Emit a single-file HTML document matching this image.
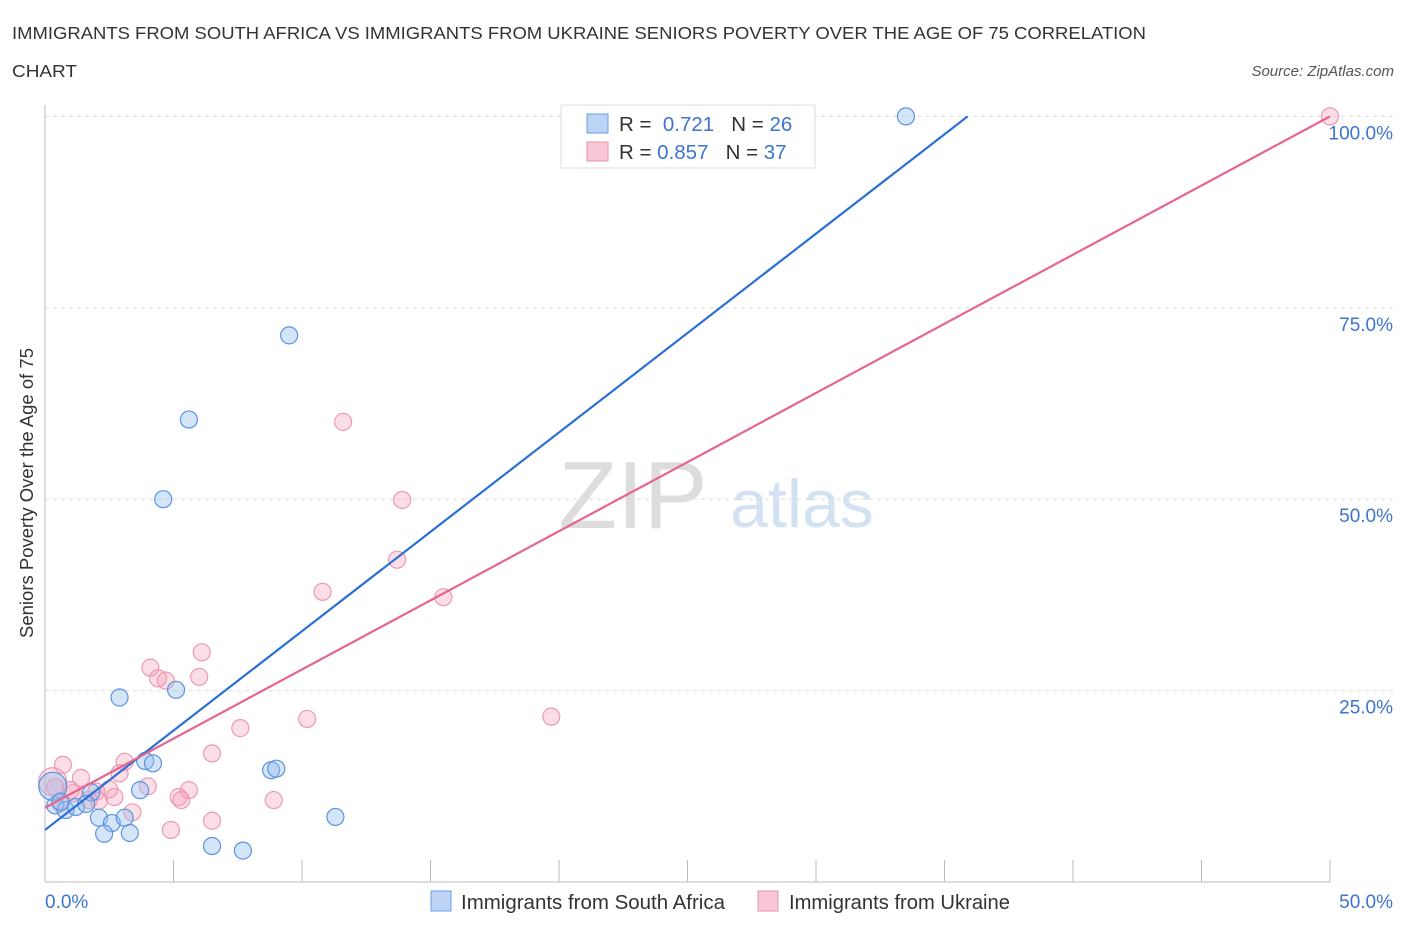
<!DOCTYPE html>
<html><head><meta charset="utf-8"><style>
body{margin:0;background:#fff;font-family:"Liberation Sans",sans-serif;}
svg text{font-family:"Liberation Sans",sans-serif;}
</style></head><body>
<svg width="1406" height="930">
<text x="12" y="39" font-size="17.5" fill="#333" textLength="1134" lengthAdjust="spacingAndGlyphs">IMMIGRANTS FROM SOUTH AFRICA VS IMMIGRANTS FROM UKRAINE SENIORS POVERTY OVER THE AGE OF 75 CORRELATION</text>
<text x="12" y="77" font-size="17.5" fill="#333" textLength="65" lengthAdjust="spacingAndGlyphs">CHART</text>
<text x="1394" y="76" font-size="15" fill="#555" font-style="italic" text-anchor="end">Source: ZipAtlas.com</text>
<text x="633" y="528" font-size="96" fill="#ddd" font-family="Liberation Serif" text-anchor="middle">ZIP</text>
<text x="802" y="527" font-size="68" fill="#d3e2f3" text-anchor="middle">atlas</text>
<g id="grid"></g>
<line x1="45" y1="105" x2="45" y2="882" stroke="#bbb"/>
<line x1="45" y1="882" x2="1330" y2="882" stroke="#bbb"/>
<g id="ticks"></g>
<text x="33" y="493" font-size="18.5" fill="#333" text-anchor="middle" transform="rotate(-90 33 493)">Seniors Poverty Over the Age of 75</text>
<text x="45" y="908" font-size="19" fill="#3d74d0">0.0%</text>
<text x="1393" y="908" font-size="19" fill="#3d74d0" text-anchor="end">50.0%</text>
<g id="pts"></g>
<g id="lines"></g>
<g>
<rect x="561" y="105" width="254" height="63" fill="#fff" stroke="#ddd"/>
<rect x="587" y="114" width="21" height="19" fill="#bcd4f5" stroke="#6d9de0"/>
<rect x="587" y="142" width="21" height="19" fill="#f9c8d6" stroke="#e890aa"/>
<text x="619" y="131" font-size="20.5" fill="#333">R = <tspan fill="#3d74d0">&#160;0.721</tspan>&#160;&#160;&#160;N = <tspan fill="#3d74d0">26</tspan></text>
<text x="619" y="159" font-size="20.5" fill="#333">R = <tspan fill="#3d74d0">0.857</tspan>&#160;&#160;&#160;N = <tspan fill="#3d74d0">37</tspan></text>
</g>
<g>
<rect x="431" y="891" width="20" height="20" fill="#bcd4f5" stroke="#6d9de0"/>
<text x="461" y="909" font-size="20" fill="#333" textLength="264" lengthAdjust="spacingAndGlyphs">Immigrants from South Africa</text>
<rect x="758" y="891" width="20" height="20" fill="#f9c8d6" stroke="#e890aa"/>
<text x="789" y="909" font-size="20" fill="#333" textLength="221" lengthAdjust="spacingAndGlyphs">Immigrants from Ukraine</text>
</g>
</svg>
<script>
const yTicks=[25,50,75,100];
const yTickLabels=["25.0%","50.0%","75.0%","100.0%"];
const xTicks=[0,5,10,15,20,25,30,35,40,45,50];
const saX=[33.5,9.5,5.6,4.6,2.9,5.1,3.9,4.2,3.7,8.8,9.0,11.3,2.1,2.6,3.1,2.3,3.3,6.5,7.7,0.4,0.8,1.2,1.8,1.6,0.3,0.6];
const saY=[100,71.4,60.4,50.0,24.1,25.1,15.8,15.5,12.0,14.6,14.8,8.5,8.4,7.7,8.4,6.3,6.4,4.7,4.1,10.0,9.4,9.8,11.7,10.2,12.5,10.5];
const saR=[8.5,8.5,8.5,8.5,8.5,8.5,8.5,8.5,8.5,8.5,8.5,8.5,8.5,8.5,8.5,8.5,8.5,8.5,8.5,8.5,8.5,8.5,8.5,8.5,14,8.5];
const ukX=[50,11.6,13.9,13.7,10.8,15.5,6.1,4.1,4.4,4.7,6.0,7.6,10.2,19.7,6.5,3.1,2.9,4.0,5.6,5.2,5.3,2.5,2.7,2.1,3.4,4.9,6.5,8.9,0.7,1.4,1.1,0.4,0.3,2.0,1.7,0.6,1.0];
const ukY=[100,60.1,49.9,42.1,37.9,37.2,30.0,28.0,26.6,26.3,26.8,20.1,21.3,21.6,16.8,15.7,14.2,12.5,12.0,11.1,10.7,12.1,11.1,10.6,9.1,6.8,8.0,10.7,15.3,13.6,11.6,12.4,13.1,11.8,10.7,10.3,12.0];
const saLine=[[0,6.8],[35.9,100]];
const ukLine=[[0,9.7],[50,100]];
const X=v=>45+v*25.7, Y=v=>882-v*7.656;
const NS="http://www.w3.org/2000/svg";
function mk(t,a,p){const e=document.createElementNS(NS,t);for(const k in a)e.setAttribute(k,a[k]);p.appendChild(e);return e;}
const grid=document.getElementById('grid'),ticks=document.getElementById('ticks');
yTicks.forEach((t,i)=>{
 const l=mk('line',{x1:45,x2:1394,y1:Y(t),y2:Y(t),stroke:'#ddd','stroke-dasharray':'4,4'},grid);
 
 
 const tx=mk('text',{x:1393,y:Y(t)+23,'font-size':19,fill:'#3d74d0','text-anchor':'end'},grid);
 tx.textContent=yTickLabels[i];
 
 
});
xTicks.forEach(t=>{
 const l=mk('line',{x1:X(t),x2:X(t),y1:860,y2:882,stroke:'#bbb'},ticks);
 
 
});
const pts=document.getElementById('pts');
ukX.forEach((x,i)=>{
 const c=mk('circle',{cx:X(x),cy:Y(ukY[i]),r:i==32?14:8.5,fill:'rgba(245,160,185,0.35)',stroke:'#ec9ab3','stroke-width':1.2},pts);
 
 
});
saX.forEach((x,i)=>{
 const c=mk('circle',{cx:X(x),cy:Y(saY[i]),r:saR[i],fill:'rgba(150,190,240,0.4)',stroke:'#5b93de','stroke-width':1.2},pts);
 
 
});
const lines=document.getElementById('lines');
const l1=mk('line',{x1:X(saLine[0][0]),y1:Y(saLine[0][1]),x2:X(saLine[1][0]),y2:Y(saLine[1][1]),stroke:'#2a6fd6','stroke-width':2.2},lines);


const l2=mk('line',{x1:X(ukLine[0][0]),y1:Y(ukLine[0][1]),x2:X(ukLine[1][0]),y2:Y(ukLine[1][1]),stroke:'#e5658f','stroke-width':2.2},lines);


</script>
</body></html>
